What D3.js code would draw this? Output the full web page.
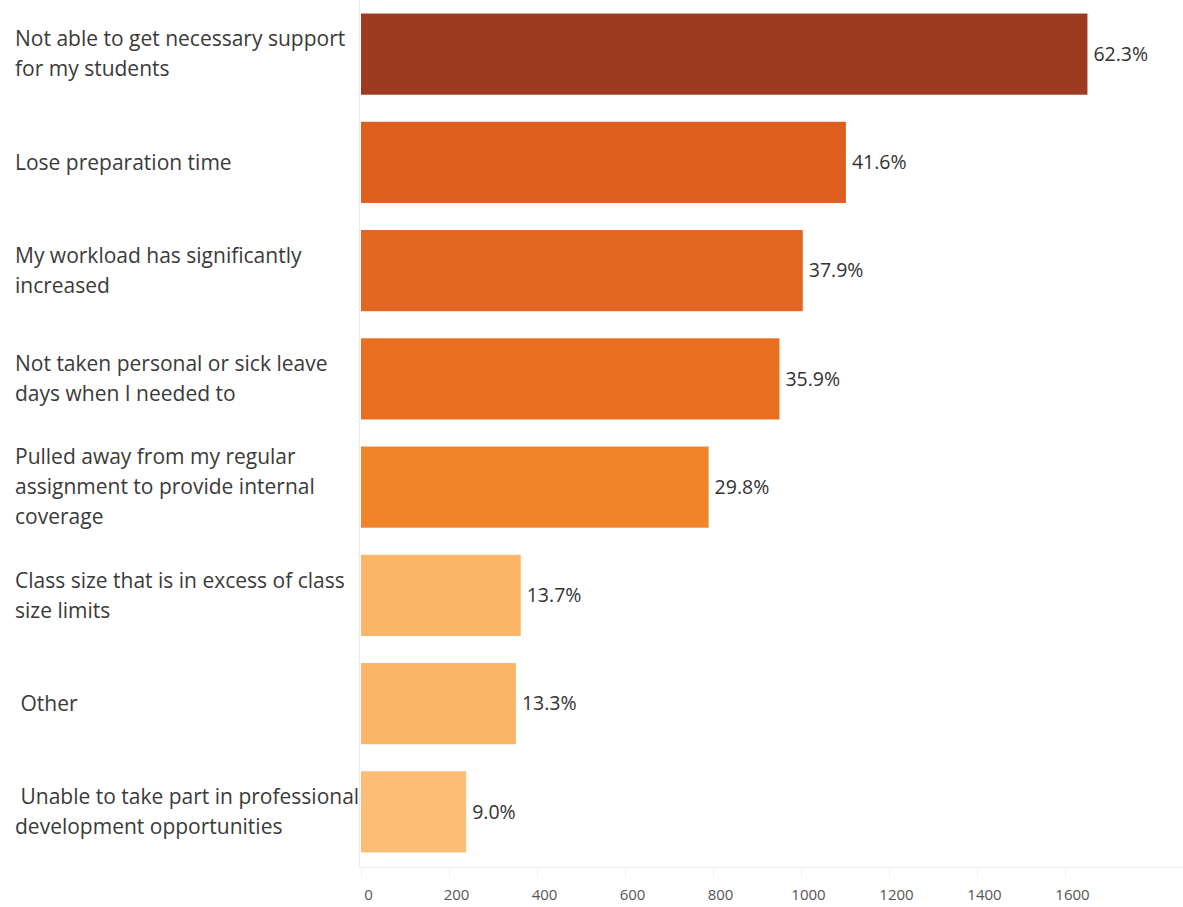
<!DOCTYPE html>
<html>
<head>
<meta charset="utf-8">
<script src="https://cdn.jsdelivr.net/npm/d3@7"></script>
<style>
  html, body { margin: 0; padding: 0; background: #fff; }
  svg { display: block; }
</style>
</head>
<body>
<svg id="chart" width="1183" height="907"></svg>
<script>
// Reasons reported, each as wrapped label lines
const categories = [
  ["Not able to get necessary support", "for my students"],
  ["Lose preparation time"],
  ["My workload has significantly", "increased"],
  ["Not taken personal or sick leave", "days when I needed to"],
  ["Pulled away from my regular", "assignment to provide internal", "coverage"],
  ["Class size that is in excess of class", "size limits"],
  [" Other"],
  [" Unable to take part in professional", "development opportunities"]
];
// Number of respondents selecting each reason
const counts = [1651, 1102, 1004, 951, 790, 363, 352, 239];
// Share of respondents
const percents = ["62.3%", "41.6%", "37.9%", "35.9%", "29.8%", "13.7%", "13.3%", "9.0%"];
const barColors = ["#9c3b20", "#df5f1f", "#e3661f", "#e86f20", "#f08428", "#fab566", "#fab566", "#fcbd77"];
const tickValues = [0, 200, 400, 600, 800, 1000, 1200, 1400, 1600];

const svg = d3.select("#chart");
const font = "'Open Sans', Lato, sans-serif";

const x = d3.scaleLinear().domain([0, 1600]).range([361, 1065]);
const y = d3.scaleBand().domain(d3.range(categories.length)).range([0, 866]).paddingInner(0.25).paddingOuter(0.125);

// zero baseline
svg.append("line")
  .attr("x1", x(0) - 1.5).attr("x2", x(0) - 1.5)
  .attr("y1", 0).attr("y2", 867)
  .attr("stroke", "#ececec").attr("stroke-width", 1);

// bars
svg.selectAll("rect.bar").data(counts).enter().append("rect")
  .attr("class", "bar")
  .attr("x", x(0))
  .attr("y", (d, i) => y(i))
  .attr("width", d => x(d) - x(0))
  .attr("height", y.bandwidth())
  .attr("fill", (d, i) => barColors[i]);

// value labels
svg.selectAll("text.val").data(counts).enter().append("text")
  .attr("class", "val")
  .attr("x", d => x(d) + 6)
  .attr("y", (d, i) => y(i) + y.bandwidth() / 2)
  .attr("dy", "0.35em")
  .attr("font-family", font)
  .attr("font-size", 19.5)
  .attr("fill", "#333")
  .text((d, i) => percents[i]);

// category labels
const lineH = 30;
const labels = svg.selectAll("text.cat").data(categories).enter().append("text")
  .attr("class", "cat")
  .attr("font-family", font)
  .attr("font-size", 21)
  .attr("fill", "#3a3a3a")
  .attr("xml:space", "preserve")
  .style("white-space", "pre");
labels.each(function(lines, i) {
  const cy = y(i) + y.bandwidth() / 2;
  const top = cy - (lines.length - 1) * lineH / 2;
  d3.select(this).selectAll("tspan").data(lines).enter().append("tspan")
    .attr("x", 15)
    .attr("y", (d, j) => top + j * lineH)
    .attr("dy", "0.35em")
    .text(d => d);
});

// x axis
const axis = d3.axisBottom(x).tickValues(tickValues).tickSize(11).tickPadding(11).tickFormat(d3.format("d"));
const gx = svg.append("g").attr("transform", "translate(0,867)").call(axis);
gx.select(".domain").remove();
svg.append("line").attr("x1", x(0) - 2).attr("x2", 1183).attr("y1", 867.5).attr("y2", 867.5)
  .attr("stroke", "#eeeeee");
gx.selectAll(".tick line").attr("stroke", "#f0f0f0");
gx.selectAll(".tick text")
  .attr("dx", 7)
  .attr("font-family", font)
  .attr("font-size", 15)
  .attr("fill", "#555");
</script>
</body>
</html>
